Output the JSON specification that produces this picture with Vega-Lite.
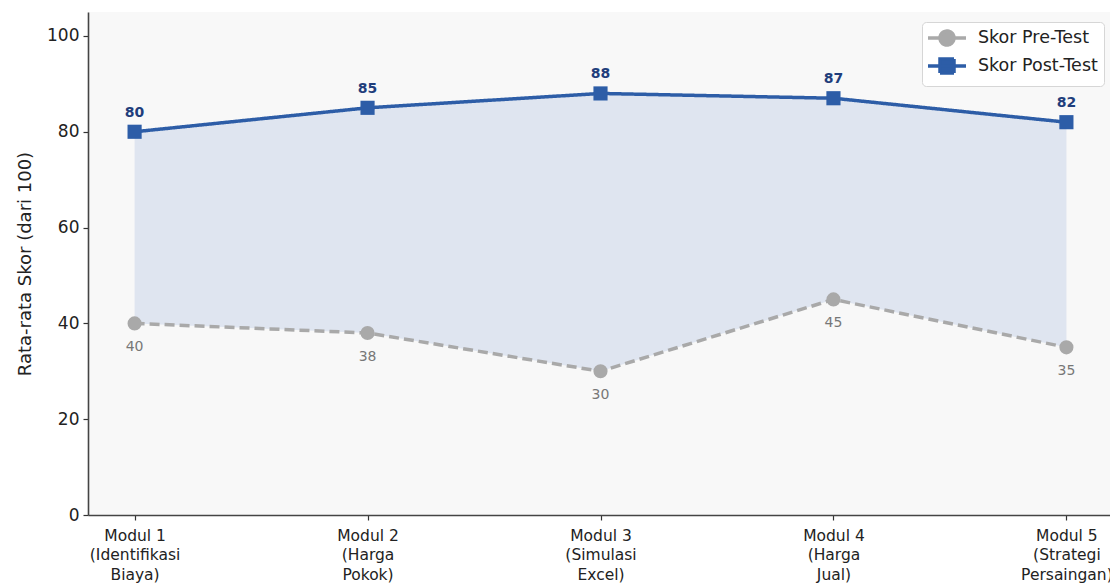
{
  "$schema": "https://vega.github.io/schema/vega-lite/v6.json",
  "autosize": "none",
  "padding": {"left": 88, "top": 12, "right": 0, "bottom": 72},
  "width": 1025,
  "height": 503,
  "background": "white",
  "config": {
    "view": {"fill": "#f8f8f8", "stroke": null},
    "font": "DejaVu Sans"
  },
  "data": {
    "values": [
      {"modul": "Modul 1\n(Identifikasi\nBiaya)", "pre": 40, "post": 80},
      {"modul": "Modul 2\n(Harga\nPokok)", "pre": 38, "post": 85},
      {"modul": "Modul 3\n(Simulasi\nExcel)", "pre": 30, "post": 88},
      {"modul": "Modul 4\n(Harga\nJual)", "pre": 45, "post": 87},
      {"modul": "Modul 5\n(Strategi\nPersaingan)", "pre": 35, "post": 82}
    ]
  },
  "encoding": {
    "x": {
      "field": "modul", "type": "nominal", "sort": null,
      "scale": {"type": "point", "padding": 0.2},
      "axis": {
        "title": null, "labelAngle": 0,
        "labelExpr": "split(datum.label, '\\n')",
        "labelFontSize": 15.5, "labelLineHeight": 19.5, "labelColor": "#222",
        "labelPadding": 8, "tickSize": 5, "tickColor": "#333", "tickWidth": 1.2,
        "domainColor": "#444", "domainWidth": 1.6, "grid": false
      }
    }
  },
  "layer": [
    {
      "mark": {"type": "area", "color": "#dbe2ee", "opacity": 0.85},
      "encoding": {
        "y": {
          "field": "post", "type": "quantitative",
          "scale": {"domain": [0, 105], "nice": false},
          "axis": {
            "title": "Rata-rata Skor (dari 100)", "titleFontSize": 18, "titleFontWeight": "normal",
            "titleColor": "#222", "titlePadding": 12,
            "values": [0, 20, 40, 60, 80, 100],
            "labelFontSize": 17, "labelColor": "#222", "labelPadding": 4,
            "tickSize": 5, "tickColor": "#333", "tickWidth": 1.2,
            "domainColor": "#444", "domainWidth": 1.6, "grid": false
          }
        },
        "y2": {"field": "pre"}
      }
    },
    {
      "transform": [{"fold": ["pre", "post"], "as": ["key", "score"]},
        {"lookup": "key", "from": {"data": {"values": [{"key": "pre", "series": "Skor Pre-Test", "shp": "circle", "dash": "d"}, {"key": "post", "series": "Skor Post-Test", "shp": "square", "dash": "s"}]}, "key": "key", "fields": ["series", "shp", "dash"]}}],
      "encoding": {
        "y": {"field": "score", "type": "quantitative"},
        "color": {"field": "series", "type": "nominal",
          "scale": {"domain": ["Skor Pre-Test", "Skor Post-Test"], "range": ["#a9a9a9", "#2d5da7"]},
          "legend": {
            "title": null, "orient": "none", "legendX": 834, "legendY": 10,
            "labelFontSize": 17.5, "labelColor": "#222", "labelFont": "DejaVu Sans",
            "symbolSize": 256, "rowPadding": 0, "labelOffset": 30,
            "fillColor": "white", "strokeColor": "#d6d6d6", "padding": 6, "cornerRadius": 4,
            "encode": {
              "symbols": {
                "update": {
                  "shape": {"signal": "datum.value === 'Skor Pre-Test' ? 'M-1.25,0H3.5M0.25,0A0.875,0.875 0 1,0 2,0A0.875,0.875 0 1,0 0.25,0Z' : 'M-1.25,0H3.5M0.25,-0.875H2V0.875H0.25Z'"},
                  "fill": {"signal": "datum.value === 'Skor Pre-Test' ? '#a9a9a9' : '#2d5da7'"},
                  "stroke": {"signal": "datum.value === 'Skor Pre-Test' ? '#a9a9a9' : '#2d5da7'"},
                  "strokeWidth": {"value": 3.5},
                  "strokeDash": {"value": [1, 0]},
                  "opacity": {"value": 1}
                }
              }
            }
          }
        }
      },
      "layer": [
        {
          "mark": {"type": "line", "strokeWidth": 3.5},
          "encoding": {
            "strokeDash": {"field": "dash", "type": "nominal", "legend": null,
              "scale": {"domain": ["d", "s"], "range": [[10, 5], [1, 0]]}}
          }
        },
        {
          "mark": {"type": "point", "filled": true, "opacity": 1, "size": 200},
          "encoding": {
            "shape": {"field": "shp", "type": "nominal", "legend": null,
              "scale": {"domain": ["circle", "square"], "range": ["circle", "square"]}}
          }
        }
      ]
    },
    {
      "mark": {"type": "text", "dy": -19, "fontSize": 14, "fontWeight": "bold", "color": "#1f3e7c"},
      "encoding": {"y": {"field": "post", "type": "quantitative"}, "text": {"field": "post"}}
    },
    {
      "mark": {"type": "text", "dy": 24, "fontSize": 14, "color": "#777777"},
      "encoding": {"y": {"field": "pre", "type": "quantitative"}, "text": {"field": "pre"}}
    }
  ]
}
